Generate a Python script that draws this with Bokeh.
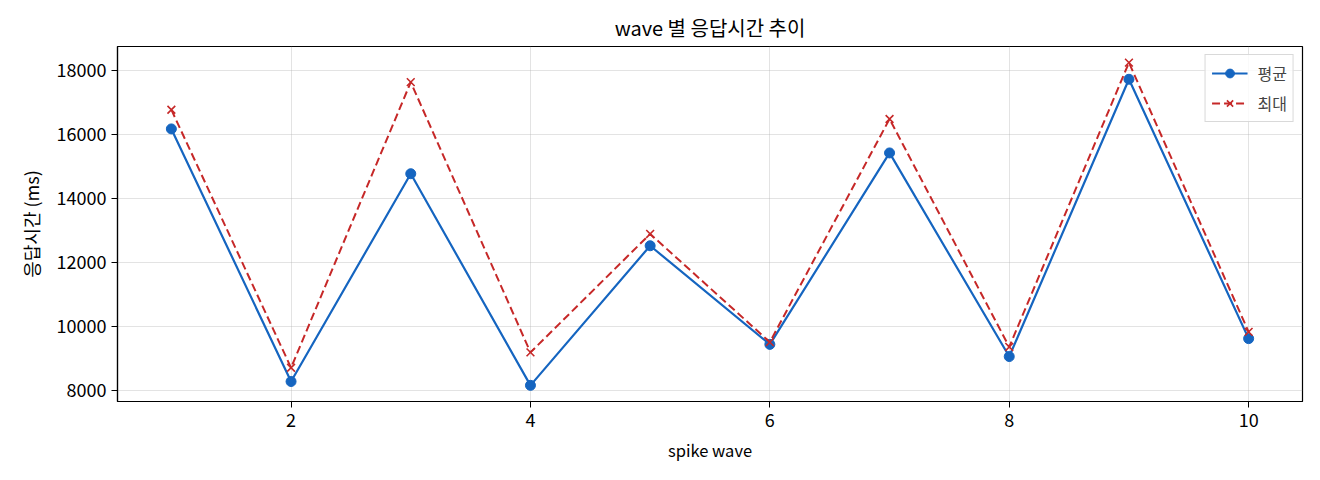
import numpy as np
from bokeh.plotting import figure
from bokeh.models import FixedTicker, Range1d, Legend, LegendItem
from bokeh.embed import file_html
from bokeh.resources import INLINE

waves = [1, 2, 3, 4, 5, 6, 7, 8, 9, 10]
avg_ms = [16170, 8280, 14770, 8160, 12520, 9440, 15420, 9060, 17720, 9620]
max_ms = [16770, 8710, 17630, 9190, 12890, 9510, 16480, 9360, 18240, 9830]
x_ticks = [2, 4, 6, 8, 10]
y_ticks = [8000, 10000, 12000, 14000, 16000, 18000]

FONT = "Noto Sans CJK KR"
BLUE = "#1565c0"
RED = "#c62828"

lo = min(min(avg_ms), min(max_ms))
hi = max(max(avg_ms), max(max_ms))
pad = (hi - lo) * 0.05
xpad = (max(waves) - min(waves)) * 0.05

p = figure(width=1304, height=464, output_backend="svg", toolbar_location=None,
           x_range=Range1d(min(waves) - xpad, max(waves) + xpad),
           y_range=Range1d(lo - pad, hi + pad),
           min_border_left=117, min_border_right=2, min_border_top=46, min_border_bottom=61)

p.title.text = "wave 별 응답시간 추이"
p.title.align = "center"
p.title.text_font = FONT
p.title.text_font_size = "20px"
p.title.text_font_style = "normal"
p.title.text_color = "#000000"

l1 = p.line(waves, avg_ms, line_color=BLUE, line_width=2.2)
s1 = p.scatter(waves, avg_ms, marker="circle", size=10, fill_color=BLUE, line_color=BLUE)
l2 = p.line(waves, max_ms, line_color=RED, line_width=2.0, line_dash="8 4")
s2 = p.scatter(waves, max_ms, marker="x", size=11, line_color=RED, line_width=1.6)

legend = Legend(items=[LegendItem(label="평균", renderers=[l1, s1]),
                       LegendItem(label="최대", renderers=[l2, s2])],
                location="top_right")
legend.label_text_font = FONT
legend.label_text_font_size = "16px"
legend.border_line_color = "#d0d0d0"
legend.border_line_alpha = 0.8
legend.background_fill_alpha = 0.8
legend.margin = 8
legend.padding = 6
legend.spacing = 6
legend.glyph_width = 36
legend.glyph_height = 22
legend.label_standoff = 10
p.add_layout(legend)

p.xaxis.ticker = FixedTicker(ticks=x_ticks)
p.yaxis.ticker = FixedTicker(ticks=y_ticks)
p.xaxis.axis_label = "spike wave"
p.yaxis.axis_label = "응답시간 (ms)"
for ax in (p.xaxis, p.yaxis):
    ax.axis_label_text_font = FONT
    ax.axis_label_text_font_style = "normal"
    ax.axis_label_text_color = "#000000"
    ax.major_label_text_font = FONT
    ax.major_label_text_font_size = "18px"
    ax.major_label_text_color = "#000000"
    ax.major_tick_out = 6
    ax.major_tick_in = 0
    ax.minor_tick_line_color = None
    ax.axis_line_color = "#000000"
    ax.major_tick_line_color = "#000000"
    ax.axis_line_width = 1.2
p.xaxis.axis_label_text_font_size = "16.5px"
p.yaxis.axis_label_text_font_size = "18px"
p.yaxis.axis_label_standoff = 10
p.xaxis.axis_label_standoff = 8

p.grid.grid_line_color = "#b0b0b0"
p.grid.grid_line_alpha = 0.35
p.grid.grid_line_width = 1
p.outline_line_color = "#000000"
p.outline_line_width = 1.2
p.outline_line_alpha = 1.0

open("out.html", "w").write(file_html(p, INLINE))
